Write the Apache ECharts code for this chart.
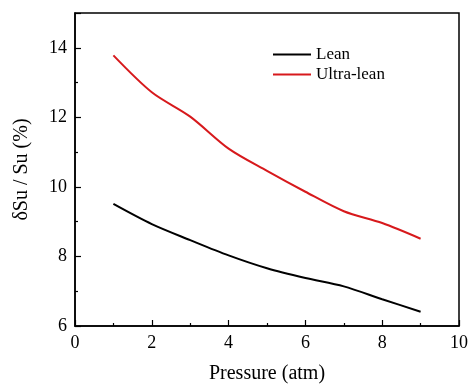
<!DOCTYPE html>
<html>
<head>
<meta charset="utf-8">
<script src="https://cdn.jsdelivr.net/npm/echarts@6/dist/echarts.min.js"></script>
<style>
  html, body { margin: 0; padding: 0; background: #fff; }
  #chart { width: 470px; height: 386px; }
</style>
</head>
<body>
<div id="chart"></div>
<script>
// pressure in atm
const pressure = [1, 2, 3, 4, 5, 6, 7, 8, 9];
// flame speed uncertainty, %
const lean = [9.51, 8.93, 8.47, 8.03, 7.66, 7.38, 7.14, 6.77, 6.41];
const ultraLean = [13.78, 12.72, 12.02, 11.1, 10.46, 9.86, 9.3, 8.96, 8.51];

const FONT = "Liberation Serif";

const chart = echarts.init(document.getElementById("chart"), null, { renderer: "canvas" });

const axisCommon = {
  axisLine: { show: true, onZero: false, lineStyle: { color: "#000", width: 1.5 } },
  axisTick: { show: true, inside: true, length: 6, lineStyle: { color: "#000", width: 1.2 } },
  minorTick: { show: true, splitNumber: 2, length: 3, lineStyle: { color: "#000", width: 1.2 } },
  splitLine: { show: false },
  axisLabel: { color: "#000", fontFamily: FONT, fontSize: 18 },
  nameTextStyle: { color: "#000", fontFamily: FONT, fontSize: 20 },
};

chart.setOption({
  animation: false,
  backgroundColor: "#fff",
  grid: {
    left: 75, right: 11, top: 13, bottom: 60,
    outerBoundsMode: "none",
    show: true, borderColor: "#000", borderWidth: 1.5,
  },
  legend: {
    top: 41, left: 268,
    orient: "vertical",
    itemGap: 3,
    itemWidth: 38,
    itemHeight: 2,
    icon: "rect",
    textStyle: { color: "#000", fontFamily: FONT, fontSize: 17 },
    data: ["Lean", "Ultra-lean"],
  },
  xAxis: {
    ...axisCommon,
    type: "value",
    min: 0, max: 10, interval: 2,
    name: "Pressure (atm)",
    nameLocation: "middle",
    nameGap: 38,
    axisLabel: { ...axisCommon.axisLabel, margin: 8 },
  },
  yAxis: {
    ...axisCommon,
    type: "value",
    min: 6, max: 15, interval: 2,
    name: "δSu / Su (%)",
    nameLocation: "middle",
    nameGap: 43,
    axisLabel: {
      ...axisCommon.axisLabel,
      margin: 8,
      formatter: (v) => (v > 14 ? "" : v),
    },
  },
  series: [
    {
      name: "Lean",
      type: "line",
      data: pressure.map((p, i) => [p, lean[i]]),
      smooth: 0.3,
      showSymbol: false,
      lineStyle: { color: "#000", width: 2 },
      itemStyle: { color: "#000" },
    },
    {
      name: "Ultra-lean",
      type: "line",
      data: pressure.map((p, i) => [p, ultraLean[i]]),
      smooth: 0.3,
      showSymbol: false,
      lineStyle: { color: "#d7191c", width: 2 },
      itemStyle: { color: "#d7191c" },
    },
  ],
});
</script>
</body>
</html>
